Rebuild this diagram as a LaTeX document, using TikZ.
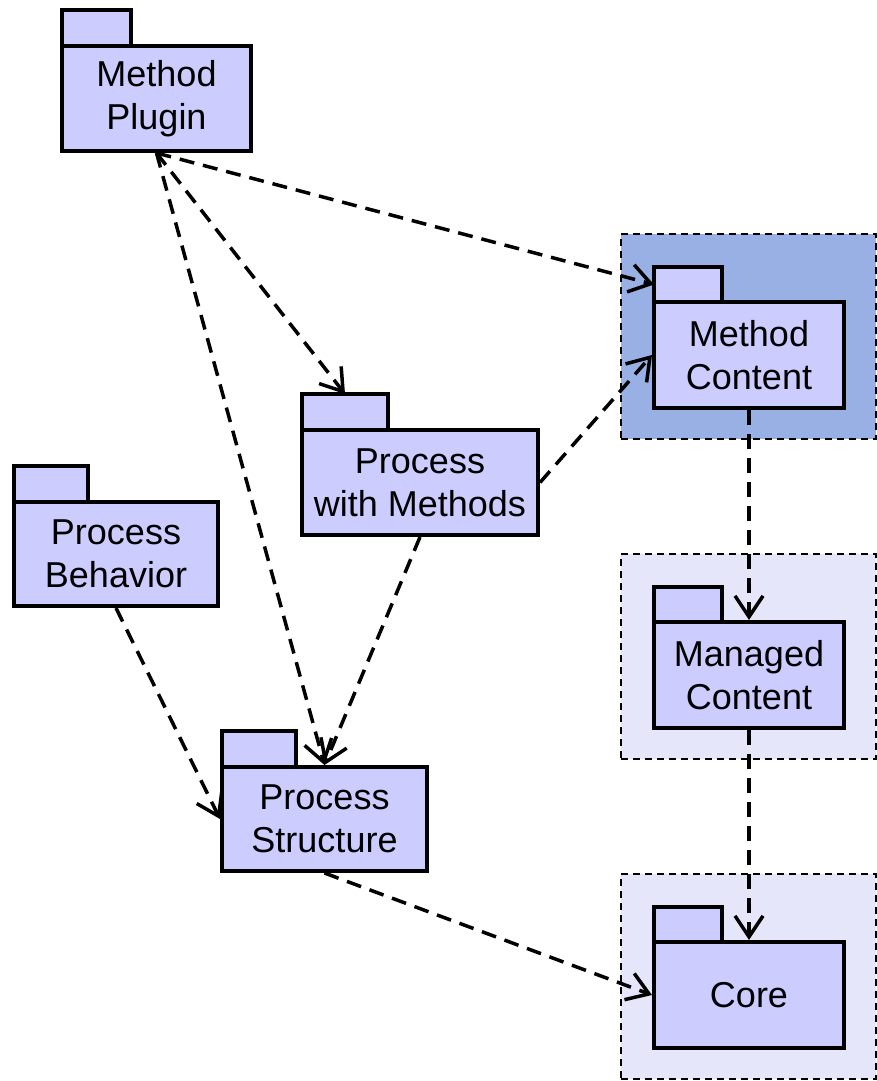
\documentclass[tikz,border=0pt]{standalone}
\usepackage{fontspec}
\setmainfont{Liberation Sans}
\usetikzlibrary{arrows.meta}
\definecolor{pkgfill}{RGB}{204,204,255}
\definecolor{darkbg}{RGB}{152,176,228}
\definecolor{lightbg}{RGB}{230,230,250}
\tikzset{
  pkgbody/.style={draw=black, line width=4pt, fill=pkgfill, align=center,
    font=\fontsize{36}{43}\selectfont, inner sep=0pt, rectangle},
  pkgtab/.style={draw=black, line width=4pt, fill=pkgfill, inner sep=0pt, outer sep=0pt,
    rectangle, anchor=south west, minimum height=36pt, xshift=2pt, yshift=-2pt},
  bgbox/.style={draw=black, line width=1.8pt, dash pattern=on 7pt off 5pt,
    rectangle, inner sep=0pt, minimum width=255pt, minimum height=205pt},
  dep/.style={draw=black, line width=3.5pt, dash pattern=on 15pt off 9pt,
    -{Straight Barb[length=21pt,width=28pt]}}
}
\begin{document}
\begin{tikzpicture}[x=1pt,y=-1pt]
\useasboundingbox (0,0) rectangle (877,1081);
% backgrounds
\node[bgbox, fill=darkbg] (mcbg) at (748.5,336.5) {};
\node[bgbox, fill=lightbg] (managedbg) at (748.5,656.5) {};
\node[bgbox, fill=lightbg] (corebg) at (748.5,976.5) {};
% packages
\node[pkgbody, minimum width=189pt, minimum height=105pt] (plugin) at (156.5,98.5) {Method\\Plugin};
\node[pkgtab, minimum width=69pt] (plugintab) at (plugin.north west) {};

\node[pkgbody, minimum width=190pt, minimum height=106pt] (mc) at (749,355) {Method\\Content};
\node[pkgtab, minimum width=68pt, minimum height=35pt] (mctab) at (mc.north west) {};

\node[pkgbody, minimum width=190pt, minimum height=106pt] (managed) at (749,675) {Managed\\Content};
\node[pkgtab, minimum width=68pt, minimum height=35pt] (managedtab) at (managed.north west) {};

\node[pkgbody, minimum width=190pt, minimum height=106pt] (core) at (749,995) {Core};
\node[pkgtab, minimum width=68pt, minimum height=35pt] (coretab) at (core.north west) {};

\node[pkgbody, minimum width=236pt, minimum height=105pt] (pwm) at (420,482.5) {Process\\with Methods};
\node[pkgtab, minimum width=86pt] (pwmtab) at (pwm.north west) {};

\node[pkgbody, minimum width=204pt, minimum height=104pt] (behav) at (116,554) {Process\\Behavior};
\node[pkgtab, minimum width=74pt] (behavtab) at (behav.north west) {};

\node[pkgbody, minimum width=205pt, minimum height=104pt] (struct) at (324.5,819) {Process\\Structure};
\node[pkgtab, minimum width=74pt] (structtab) at (struct.north west) {};
% dependencies
\draw[dep] (plugin.south) -- (mctab.west);
\draw[dep] (plugin.south) -- (pwmtab.north);
\draw[dep] (plugin.south) -- (struct.north);
\draw[dep] (pwm.east) -- (mc.west);
\draw[dep] (pwm.south) -- (struct.north);
\draw[dep] (behav.south) -- (struct.west);
\draw[dep] (mc.south) -- (managed.north);
\draw[dep] (managed.south) -- (core.north);
\draw[dep] (struct.south) -- (core.west);
\end{tikzpicture}
\end{document}
